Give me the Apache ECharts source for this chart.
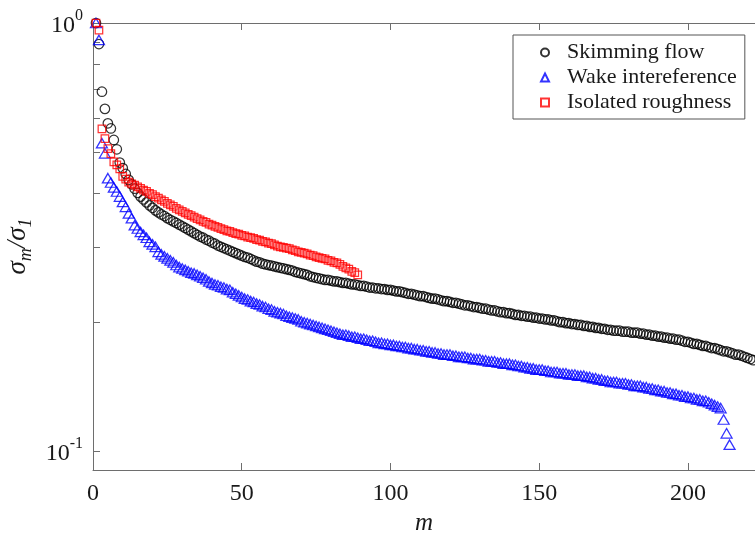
<!DOCTYPE html>
<html>
<head>
<meta charset="utf-8">
<script src="https://cdn.jsdelivr.net/npm/echarts@6/dist/echarts.min.js"></script>
<style>
html,body{margin:0;padding:0;background:#fff;}
#chart{width:755px;height:533px;}
</style>
</head>
<body>
<div id="chart"></div>
<script>
// ---- data (m = 1, 2, 3, ...) ----
var seriesNames = ['Skimming flow', 'Wake intereference', 'Isolated roughness'];

var skimming = [
1.000,0.893,0.691,0.630,0.583,0.567,0.533,0.507,0.472,0.458,0.444,0.430,
0.420,0.410,0.401,0.393,
0.387,0.381,0.375,0.370,0.365,0.361,
0.357,0.354,0.350,0.347,0.344,0.341,0.338,
0.335,0.332,0.329,0.326,0.323,0.320,0.317,
0.315,0.312,0.310,0.307,0.305,0.302,0.300,
0.298,0.296,0.294,0.292,0.290,0.288,0.286,
0.284,0.283,0.281,0.279,0.277,0.276,
0.274,0.273,0.272,0.271,0.270,0.269,0.268,0.267,0.266,0.265,
0.264,0.262,0.261,0.260,0.259,0.258,0.256,0.255,0.254,
0.253,0.252,0.251,0.251,0.250,0.249,0.249,0.248,
0.247,0.247,0.246,0.245,0.245,0.244,0.243,0.243,0.242,0.241,0.241,0.240,0.240,0.239,0.239,0.238,0.238,
0.237,0.236,0.236,0.235,0.234,0.233,0.233,0.232,0.231,0.230,0.230,0.229,0.228,0.227,0.227,0.226,0.225,
0.224,0.224,0.223,0.222,0.222,0.221,0.220,0.219,0.219,0.218,0.217,0.217,0.216,0.215,0.215,0.214,0.213,
0.213,0.212,0.211,0.211,0.210,0.210,0.209,0.208,0.208,0.207,0.207,0.206,0.206,0.205,0.205,0.204,
0.204,0.203,0.203,0.202,0.202,0.201,0.200,0.200,0.199,0.199,0.198,0.198,0.197,0.197,0.196,0.196,0.195,
0.195,0.194,0.194,0.193,0.193,0.192,0.192,0.191,0.191,0.191,0.190,0.190,0.190,0.189,0.189,0.189,0.188,0.188,0.187,0.187,
0.186,0.186,0.185,0.185,0.184,0.184,0.183,0.183,0.182,0.182,0.181,0.180,0.180,0.179,0.178,0.178,0.177,
0.176,0.176,0.175,0.174,0.174,0.173,0.172,
0.171,0.171,0.170,0.169,0.168,0.168,0.167,0.166,0.165,0.164,0.163
];

var wake = [
1.000,0.913,0.524,0.496,0.434,0.424,0.413,0.404,0.393,0.382,0.372,0.359,0.350,0.337,0.331,0.325,
0.320,0.315,0.308,0.304,0.300,0.292,
0.288,0.285,0.282,0.279,0.276,0.272,0.269,
0.267,0.265,0.263,0.261,0.260,0.258,
0.256,0.254,0.252,0.249,0.247,
0.245,0.244,0.242,0.241,0.239,0.238,
0.235,0.233,0.231,0.229,
0.227,0.226,0.224,0.223,0.221,0.220,0.218,0.217,0.215,0.214,0.212,0.211,0.210,0.209,0.207,0.206,
0.205,0.204,0.203,0.201,0.200,0.199,0.198,0.197,0.196,0.195,0.194,0.193,0.192,0.191,0.190,0.189,0.188,
0.187,0.187,0.186,0.185,0.185,0.184,0.183,0.183,0.182,0.181,0.181,0.180,0.179,0.179,0.178,0.178,0.177,
0.177,0.176,0.176,0.175,0.175,0.174,0.174,0.173,0.173,0.172,0.172,0.171,0.171,0.170,0.170,0.169,0.169,
0.168,0.168,0.168,0.167,0.167,0.166,0.166,0.166,0.165,0.165,0.164,0.164,0.164,0.163,0.163,0.162,0.162,
0.162,0.161,0.161,0.160,0.160,0.160,0.159,0.159,0.158,0.158,0.157,0.157,0.156,0.156,0.155,0.155,
0.155,0.154,0.154,0.153,0.153,0.153,0.152,0.152,0.152,0.151,0.151,0.151,0.150,0.150,0.150,0.149,0.149,
0.148,0.148,0.147,0.147,0.146,0.146,0.145,
0.145,0.145,0.144,0.144,0.144,0.143,0.143,0.142,0.142,0.142,0.141,0.141,0.140,
0.140,0.139,0.139,0.138,0.138,0.137,0.137,0.136,0.136,0.135,0.135,
0.134,0.134,0.133,0.133,0.132,0.132,0.131,0.131,0.130,
0.129,0.128,0.127,0.126,
0.1185,0.110,0.1035
];

var isolated = [
1.000,0.963,0.566,0.537,0.509,0.495,0.474,0.466,0.456,0.438,0.432,0.425,
0.421,0.418,0.414,0.411,0.407,0.404,
0.400,0.397,0.393,0.390,0.386,
0.383,0.379,0.376,0.373,0.369,0.366,
0.363,0.360,0.357,0.355,0.352,0.349,0.347,
0.344,0.342,0.339,0.337,0.335,0.333,0.331,
0.329,0.327,0.326,0.324,0.322,0.321,0.319,
0.318,0.316,0.315,0.314,0.312,0.311,
0.309,0.308,0.306,0.305,0.303,0.301,
0.300,0.299,0.298,0.297,
0.295,0.294,0.292,0.291,0.290,0.289,0.287,0.286,0.284,
0.283,0.282,0.281,0.279,0.278,0.276,0.275,0.273,0.270,
0.268,0.266,0.263,0.261,0.258
];

var xTickValues = [0, 50, 100, 150, 200];
var yLabelValues = [0.1, 1];
var yTickValues = [0.1,0.2,0.3,0.4,0.5,0.6,0.7,0.8,0.9,1];

function pairs(arr){ return arr.map(function(v,i){ return [i+1, v]; }); }

var FONT = "'Liberation Serif','Times New Roman',serif";
var AXC = '#6e6e6e';
var TXT = '#1a1a1a';

var chart = echarts.init(document.getElementById('chart'), null, {renderer:'canvas'});
var option = {
  animation: false,
  backgroundColor: '#fff',
  grid: {left: 93, top: 23, right: 0, bottom: 63, containLabel: false, outerBoundsMode: 'none'},
  legend: {
    orient: 'vertical',
    left: 513, top: 35,
    padding: [5, 8, 4, 27],
    itemGap: 0,
    itemWidth: 8, itemHeight: 8,
    borderColor: '#555', borderWidth: 1,
    backgroundColor: '#fff',
    textStyle: {fontFamily: FONT, fontSize: 22, color: TXT, lineHeight: 25, padding: [0,0,0,13]},
    data: seriesNames
  },
  xAxis: [{
    type: 'value', min: 0, max: 222.55, interval: 50, position: 'bottom',
    name: 'm', nameLocation: 'middle', nameGap: 31,
    nameTextStyle: {fontFamily: FONT, fontStyle: 'italic', fontSize: 25, color: TXT},
    axisLine: {show: true, lineStyle: {color: AXC, width: 1}},
    axisTick: {show: true, inside: true, length: 7, lineStyle: {color: AXC}},
    axisLabel: {show: true, fontFamily: FONT, fontSize: 24, color: TXT, margin: 12, showMaxLabel: false,
      formatter: function(v){ return xTickValues.indexOf(v) >= 0 ? String(v) : ''; }},
    splitLine: {show: false}
  },{
    type: 'value', min: 0, max: 222.55, interval: 50, position: 'top',
    axisLine: {show: true, lineStyle: {color: AXC, width: 1}},
    axisTick: {show: true, inside: true, length: 7, lineStyle: {color: AXC}},
    axisLabel: {show: false},
    splitLine: {show: false}
  }],
  yAxis: {
    type: 'log', logBase: 10, min: 0.0903, max: 1,
    name: '{i|σ}{sub|m}{n|/}{i|σ}{sub|1}',
    nameLocation: 'middle', nameRotate: 90, nameGap: 56,
    nameTextStyle: {
      fontFamily: FONT, fontSize: 26, color: TXT,
      rich: {
        i: {fontFamily: FONT, fontStyle: 'italic', fontSize: 27, color: TXT, lineHeight: 30, verticalAlign: 'top'},
        n: {fontFamily: FONT, fontStyle: 'italic', fontSize: 27, color: TXT, lineHeight: 30, verticalAlign: 'top'},
        sub: {fontFamily: FONT, fontStyle: 'italic', fontSize: 18, color: TXT, lineHeight: 18, verticalAlign: 'bottom'}
      }
    },
    axisLine: {show: true, lineStyle: {color: AXC, width: 1}},
    axisTick: {show: true, inside: true, length: 7, lineStyle: {color: AXC}, customValues: yTickValues},
    axisLabel: {
      show: true, margin: 10, customValues: yLabelValues,
      formatter: function(v){
        var e = Math.round(Math.log10(v));
        return '{b|10}{s|' + e + '}';
      },
      rich: {
        b: {fontFamily: FONT, fontSize: 24, color: TXT, lineHeight: 30, verticalAlign: 'bottom'},
        s: {fontFamily: FONT, fontSize: 16, color: TXT, lineHeight: 30, verticalAlign: 'top'}
      }
    },
    splitLine: {show: false},
    minorTick: {show: false}
  },
  series: [
    {name: seriesNames[0], type: 'scatter', data: pairs(skimming), symbol: 'circle', symbolSize: 9.5,
     itemStyle: {color: 'rgba(0,0,0,0)', borderColor: '#000000', borderWidth: 1.25}, z: 2},
    {name: seriesNames[1], type: 'scatter', data: pairs(wake), symbol: 'triangle', symbolSize: [11, 9.5],
     itemStyle: {color: 'rgba(0,0,0,0)', borderColor: '#0000ff', borderWidth: 1.25}, z: 3},
    {name: seriesNames[2], type: 'scatter', data: pairs(isolated), symbol: 'rect', symbolSize: 7.5,
     itemStyle: {color: 'rgba(0,0,0,0)', borderColor: '#ff0000', borderWidth: 1.25}, z: 4}
  ]
};
chart.setOption(option);
</script>
</body>
</html>
